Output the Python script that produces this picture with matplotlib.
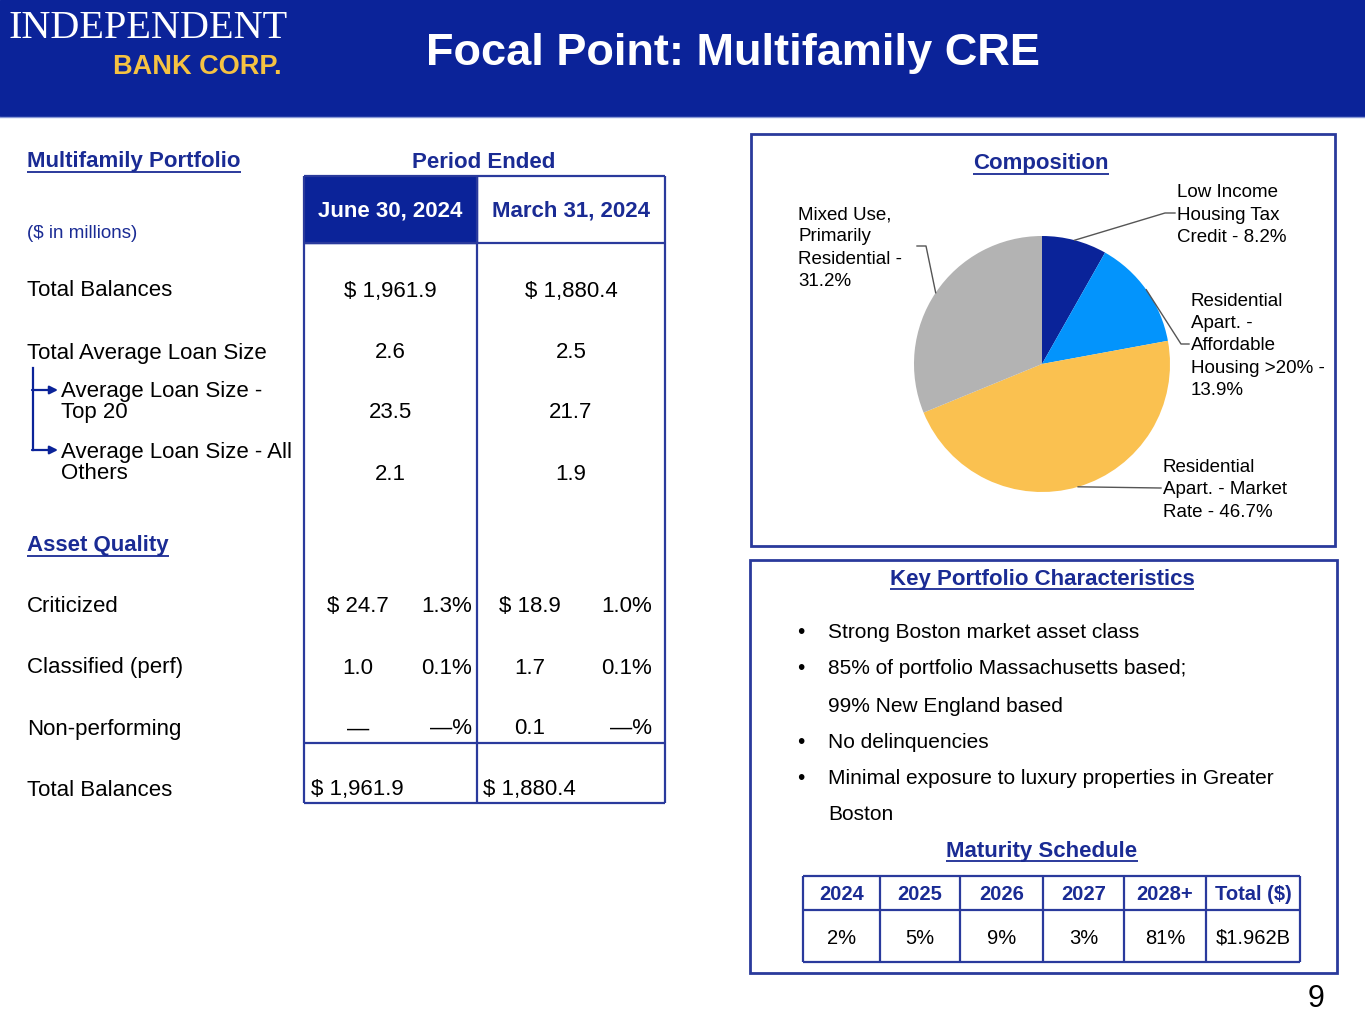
import numpy as np
import matplotlib
matplotlib.use("Agg")
import matplotlib.pyplot as plt

plt.rcParams['font.family'] = ['Liberation Sans', 'DejaVu Sans']

# ---- data ----
col_headers = ["June 30, 2024", "March 31, 2024"]
row_labels = ["Total Balances", "Total Average Loan Size",
              "Average Loan Size -\nTop 20", "Average Loan Size - All\nOthers"]
jun_vals = ["$ 1,961.9", "2.6", "23.5", "2.1"]
mar_vals = ["$ 1,880.4", "2.5", "21.7", "1.9"]

aq_labels = ["Criticized", "Classified (perf)", "Non-performing"]
aq_jun_amt = ["$ 24.7", "1.0", "\u2014"]
aq_jun_pct = ["1.3%", "0.1%", "\u2014%"]
aq_mar_amt = ["$ 18.9", "1.7", "0.1"]
aq_mar_pct = ["1.0%", "0.1%", "\u2014%"]
total_jun = "$ 1,961.9"
total_mar = "$ 1,880.4"

pie_labels = ["Low Income\nHousing Tax\nCredit - 8.2%",
              "Residential\nApart. -\nAffordable\nHousing >20% -\n13.9%",
              "Residential\nApart. - Market\nRate - 46.7%",
              "Mixed Use,\nPrimarily\nResidential -\n31.2%"]
pie_vals = [8.2, 13.9, 46.7, 31.2]
pie_colors = ["#0a2399", "#0394fc", "#fac150", "#b3b3b3"]

bullets = ["Strong Boston market asset class",
           "85% of portfolio Massachusetts based;",
           None,
           "No delinquencies",
           "Minimal exposure to luxury properties in Greater",
           None]
bullet_extra = {2: "99% New England based", 5: "Boston"}

mat_years = ["2024", "2025", "2026", "2027", "2028+", "Total ($)"]
mat_vals = ["2%", "5%", "9%", "3%", "81%", "$1.962B"]

NAVY = "#0b2399"
TXTBLUE = "#1a2b94"
LINE = "#2a3a9c"

fig = plt.figure(figsize=(13.65, 10.24), dpi=100)
ax = fig.add_axes([0, 0, 1, 1])
W, H = 1365, 1024
DY = 2  # nudge so caps sit centred on the row


def reset():
    ax.set_xlim(0, W)
    ax.set_ylim(H, 0)
    ax.set_aspect('auto')
    ax.axis('off')


reset()
renderer = fig.canvas.get_renderer()


def txt(x, y, s, **kw):
    kw.setdefault('va', 'center')
    return ax.text(x, y + DY, s, **kw)


def uline_text(x, y, s, ha='left', **kw):
    t = txt(x, y, s, ha=ha, **kw)
    bb = t.get_window_extent(renderer=renderer)
    yb = H - bb.y0 - 1
    ax.plot([bb.x0, bb.x1], [yb, yb], color=kw.get('color', 'k'), lw=1.3,
            solid_capstyle='butt')
    return t


# header band
ax.add_patch(plt.Rectangle((0, 0), W, 116, color=NAVY, zorder=0))
ax.plot([0, W], [117, 117], color="#8a9ad6", lw=1)
txt(733, 52, "Focal Point: Multifamily CRE", color='white',
    fontsize=32.5, fontweight='bold', ha='center')
txt(9, 27, "INDEPENDENT", color='white', fontsize=29,
    family='Liberation Serif', ha='left')
txt(113, 65, "BANK CORP.", color='#f5c242', fontsize=19.5,
    fontweight='bold', ha='left')

# ---- left table ----
uline_text(27, 160, "Multifamily Portfolio", color=TXTBLUE, fontsize=16,
           fontweight='bold')
txt(484, 160, "Period Ended", color=TXTBLUE, fontsize=16,
    fontweight='bold', ha='center')
txt(27, 231, "($ in millions)", color=TXTBLUE, fontsize=13.5)

xl, xm, xr = 304, 477, 665
ax.add_patch(plt.Rectangle((xl, 176), xm - xl, 243 - 176, color=NAVY,
                           zorder=1))
lkw = dict(color=LINE, lw=1.6, solid_capstyle='butt', zorder=2)
ax.plot([xl, xr], [176, 176], **lkw)
ax.plot([xl, xr], [243, 243], **lkw)
ax.plot([xl, xr], [743, 743], **lkw)
ax.plot([xl, xr], [803, 803], **lkw)
for xx in (xl, xm, xr):
    ax.plot([xx, xx], [176, 803], **lkw)

txt((xl + xm) / 2, 209, col_headers[0], color='white', fontsize=16,
    fontweight='bold', ha='center', zorder=3)
txt((xm + xr) / 2, 209, col_headers[1], color=TXTBLUE, fontsize=16,
    fontweight='bold', ha='center', zorder=3)

row_y = [289, 351, 411, 473]
label_y = [289, 351, 400, 461]
label_x = [27, 27, 61, 61]
for i in range(len(row_labels)):
    txt(label_x[i], label_y[i], row_labels[i], fontsize=16, linespacing=1.05)
    txt(390, row_y[i], jun_vals[i], fontsize=16, ha='center')
    txt(571, row_y[i], mar_vals[i], fontsize=16, ha='center')

# arrows for sub rows
ax.plot([33, 33], [368, 450], color=NAVY, lw=1.6)
for ya in (390, 450):
    ax.annotate("", xy=(58, ya), xytext=(32, ya),
                arrowprops=dict(arrowstyle='-|>', color=NAVY, lw=1.6,
                                mutation_scale=12, shrinkA=0, shrinkB=0))

uline_text(27, 544, "Asset Quality", color=TXTBLUE, fontsize=16,
           fontweight='bold')
aq_y = [605, 666, 727]
for i in range(len(aq_labels)):
    txt(27, aq_y[i], aq_labels[i], fontsize=16)
    txt(358, aq_y[i], aq_jun_amt[i], fontsize=16, ha='center')
    txt(472, aq_y[i], aq_jun_pct[i], fontsize=16, ha='right')
    txt(530, aq_y[i], aq_mar_amt[i], fontsize=16, ha='center')
    txt(652, aq_y[i], aq_mar_pct[i], fontsize=16, ha='right')
txt(27, 788, "Total Balances", fontsize=16)
txt(311, 788, total_jun, fontsize=16)
txt(483, 788, total_mar, fontsize=16)

# ---- composition box ----
bkw = dict(fill=False, ec=LINE, lw=2, zorder=2)
ax.add_patch(plt.Rectangle((751, 134), 584, 412, **bkw))
uline_text(1041, 162, "Composition", ha='center', color=TXTBLUE,
           fontsize=16, fontweight='bold')

cx, cy, r = 1042, 364, 128
wedges, _ = ax.pie(pie_vals, colors=pie_colors, startangle=-90,
                   counterclock=True, center=(cx, cy), radius=r,
                   wedgeprops=dict(linewidth=0))
reset()

# leader lines from wedge middles
ang0 = 90.0
mids = []
for v in pie_vals:
    span = v / sum(pie_vals) * 360
    mids.append(np.radians(ang0 - span / 2))
    ang0 -= span
edge = [(cx + r * np.cos(a), cy - r * np.sin(a)) for a in mids]

lab_pos = [(1177, 213), (1191, 344), (1163, 488), (798, 246)]
elbow = [(1165, 213), (1181, 344), (1160, 488), (926, 246)]
for i in range(4):
    ex, ey = edge[i]
    bx, by = elbow[i]
    lx, ly = lab_pos[i]
    if i == 3:
        ax.plot([ex, bx, 917], [ey, by, by], color='#555555', lw=1)
    else:
        ax.plot([ex, bx, lx - 2], [ey, by, ly], color='#555555', lw=1)
    txt(lx, ly, pie_labels[i], fontsize=13.5, linespacing=1.4)

# ---- key characteristics box ----
ax.add_patch(plt.Rectangle((750, 560), 587, 413, **bkw))
uline_text(1042, 577, "Key Portfolio Characteristics", ha='center',
           color=TXTBLUE, fontsize=16, fontweight='bold')
by_ = [631, 667, 704, 740, 776, 812]
for i, b in enumerate(bullets):
    if b is not None:
        txt(797, by_[i], "\u2022", fontsize=15)
        txt(828, by_[i], b, fontsize=15)
    else:
        txt(828, by_[i], bullet_extra[i], fontsize=15)

uline_text(1042, 849, "Maturity Schedule", ha='center', color=TXTBLUE,
           fontsize=16, fontweight='bold')
col_x = [803, 880, 960, 1043, 1124, 1206, 1300]
ty0, ty1, ty2 = 876, 910, 962
for xx in col_x:
    ax.plot([xx, xx], [ty0, ty2], **lkw)
for yy in (ty0, ty1, ty2):
    ax.plot([col_x[0], col_x[-1]], [yy, yy], **lkw)
for i in range(len(mat_years)):
    xc = (col_x[i] + col_x[i + 1]) / 2
    txt(xc, (ty0 + ty1) / 2, mat_years[i], color=TXTBLUE,
        fontsize=14.5, fontweight='bold', ha='center')
    txt(xc, (ty1 + ty2) / 2, mat_vals[i], fontsize=14.5, ha='center')

txt(1316, 997, "9", fontsize=22, ha='center')

fig.savefig("out.png", dpi=100)
